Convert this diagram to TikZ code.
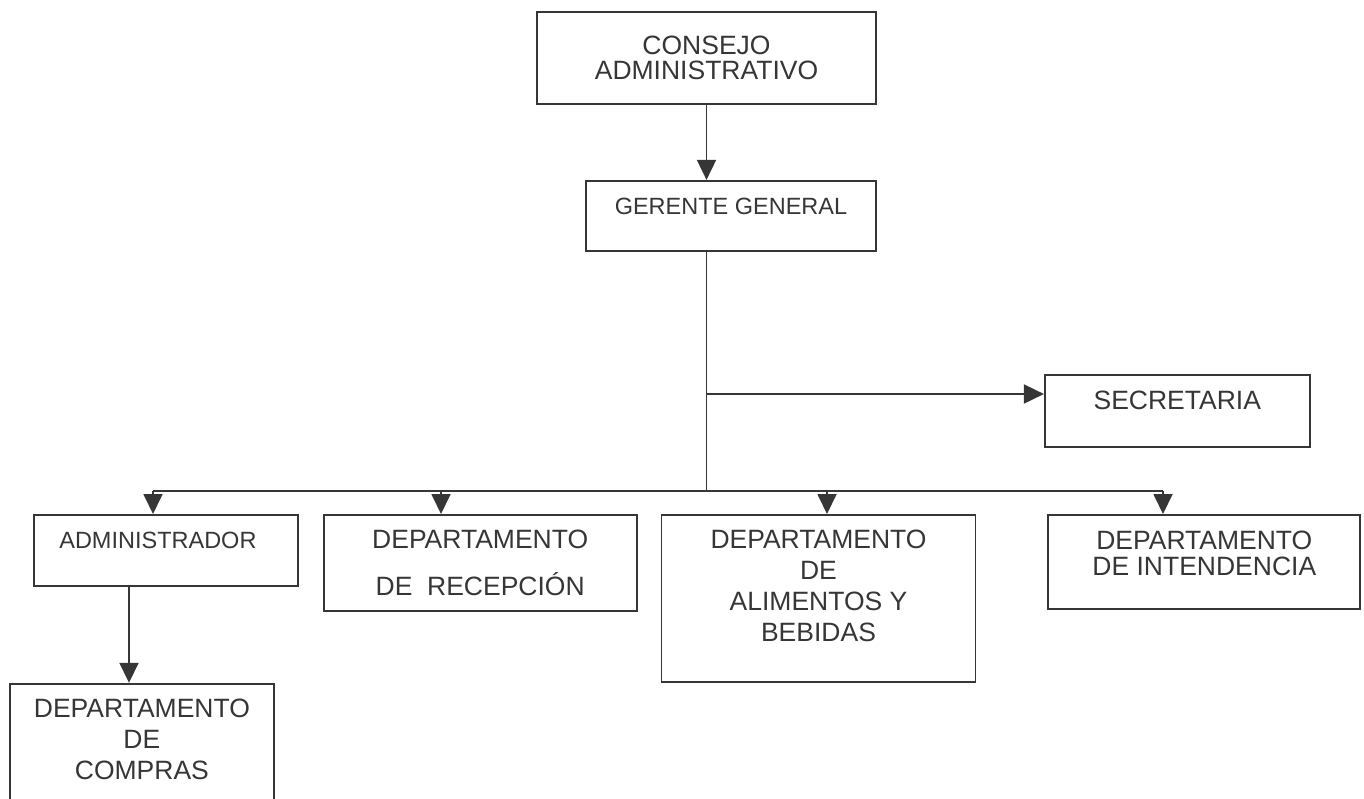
\documentclass[tikz,border=0pt]{standalone}
\usepackage{fontspec}
\setmainfont{Liberation Sans}
\usetikzlibrary{positioning,arrows.meta}
\definecolor{tinta}{HTML}{363636}
\newcommand{\hueco}[1]{\rule[-#1pt]{0pt}{#1pt}}

\begin{document}
\begin{tikzpicture}[x=1pt,y=-1pt,
	caja/.style={draw=tinta, line width=1.8pt, align=center, text=tinta, font=\fontsize{26.5}{31}\selectfont},
	chica/.style={font=\fontsize{23.5}{27}\selectfont},
	flecha/.style={draw=tinta, line width=1.8pt, -{Triangle[length=20pt,width=19pt]}},
	linea/.style={draw=tinta, line width=1.8pt}]
	\useasboundingbox (0,0) rectangle (1364,798);
	\clip (0,0) rectangle (1364,798);

	\node[caja, minimum width=339pt, minimum height=92pt] (consejo) at (706.5,58) {CONSEJO\\[-6pt]ADMINISTRATIVO};
	\node[caja, chica, minimum width=290pt, minimum height=70pt, below=75pt of consejo.south east, anchor=north east] (gerente) {GERENTE GENERAL\hueco{20}};
	\node[caja, minimum width=265pt, minimum height=72pt, below right=122pt and 167pt of gerente.south east, anchor=north west] (secretaria) {SECRETARIA\hueco{20}};
	\node[caja, chica, minimum width=264pt, minimum height=71pt, anchor=north west] (admin) at (33,514) {ADMINISTRADOR\hueco{21}\hspace*{16pt}};
	\node[caja, minimum width=313pt, minimum height=96pt, right=24pt of admin.north east, anchor=north west] (recepcion) {DEPARTAMENTO\\[16pt]DE\ \ RECEPCIÓN};
	\node[caja, minimum width=314pt, minimum height=167pt, right=23pt of recepcion.north east, anchor=north west] (alimentos) {DEPARTAMENTO\\DE\\ALIMENTOS Y\\BEBIDAS\hueco{25}};
	\node[caja, minimum width=312pt, minimum height=94pt, right=71pt of alimentos.north east, anchor=north west] (intendencia) {DEPARTAMENTO\\[-5pt]DE INTENDENCIA\hueco{18}};
	\node[caja, minimum width=264pt, minimum height=140pt, below left=96pt and 24pt of admin.south west, anchor=north west] (compras) {DEPARTAMENTO\\DE\\COMPRAS\hueco{28}};

	\coordinate (cruce) at (706.5,394);
	\coordinate (bus) at (706.5,491);
	\coordinate (bus-izq) at (153,491);
	\coordinate (bus-der) at (1163,491);
	\coordinate (bajada) at ([xshift=96pt]admin.south west);

	\draw[flecha] (consejo) -- (consejo.south |- gerente.north);
	\draw[linea] (consejo.south |- gerente.south) -- (bus);
	\draw[flecha] (cruce) -- (secretaria.west |- cruce);
	\draw[linea] (bus-izq) -- (bus-der);
	\foreach \x/\n in {153/admin,441/recepcion,827/alimentos,1163/intendencia}{
		\coordinate (b-\n) at (\x,491);
		\draw[flecha] (b-\n) -- (b-\n |- \n.north);
	}
	\draw[flecha] (bajada) -- (bajada |- compras.north);

\end{tikzpicture}
\end{document}
